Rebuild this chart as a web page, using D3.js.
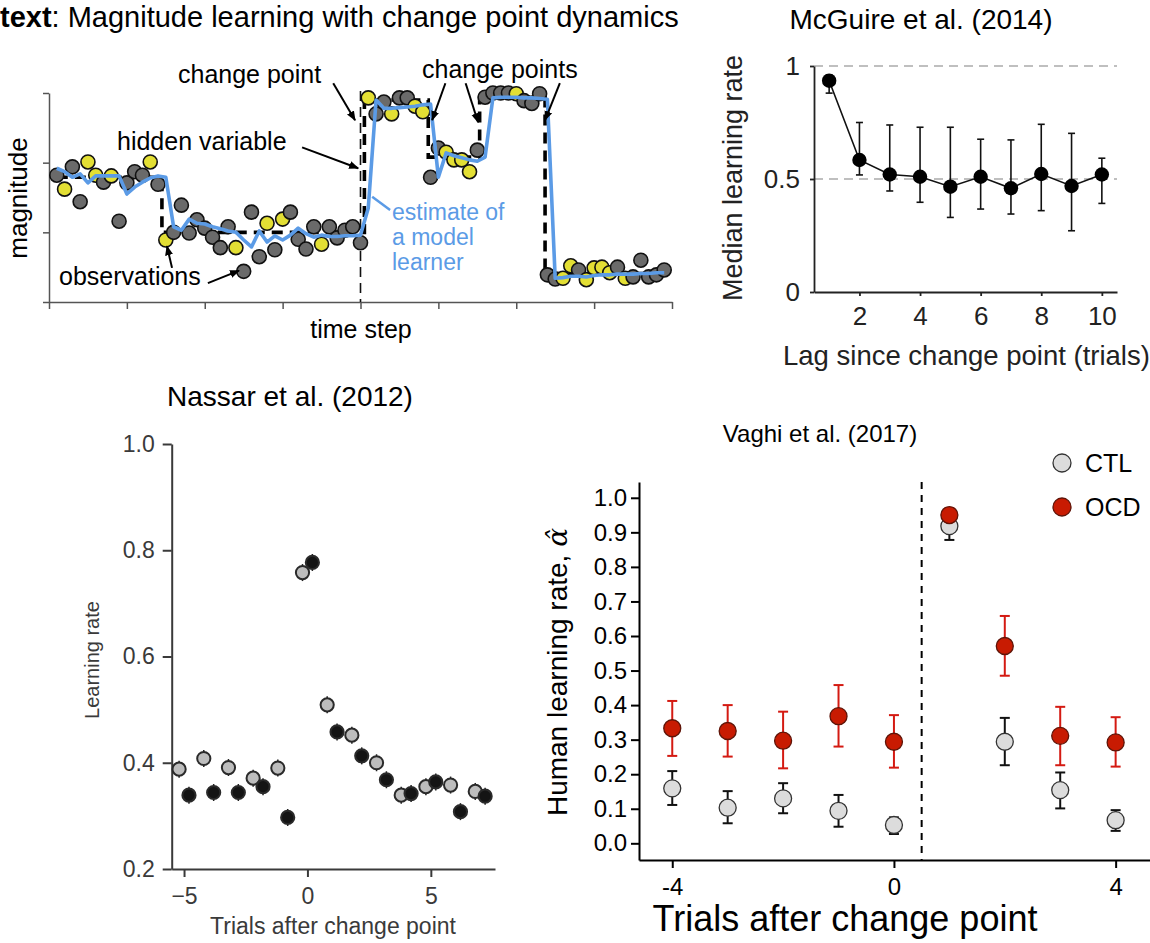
<!DOCTYPE html>
<html>
<head>
<meta charset="utf-8">
<script src="https://cdn.jsdelivr.net/npm/d3@7"></script>
<style>
  body { margin: 0; background: #fff; }
  svg { display: block; font-family: "Liberation Sans", Arial, sans-serif; }
  .axis text { font-family: "Liberation Sans", Arial, sans-serif; }
</style>
</head>
<body>
<svg id="fig" width="1150" height="943"></svg>
<script>
// ---------- panel A : simulated change point task ----------
const timeSteps = d3.range(1, 80);
const observed = [1.82, 1.62, 1.94, 1.44, 2.01, 1.82, 1.72, 1.81, 1.16, 1.71,
  1.87, 1.82, 2.01, 1.69, 0.89, 1.00, 1.39, 0.99, 1.18, 1.06,
  0.93, 0.78, 1.08, 0.78, 0.44, 1.29, 0.65, 1.13, 0.75, 1.19,
  1.29, 0.90, 0.76, 1.08, 0.83, 1.08, 0.92, 1.03, 1.08, 0.85,
  2.93, 2.70, 2.87, 2.70, 2.93, 2.93, 2.81, 2.73, 1.79, 2.21,
  2.15, 2.04, 2.04, 1.87, 2.18, 2.94, 3.00, 3.00, 3.00, 2.99,
  2.89, 2.85, 2.99, 0.39, 0.33, 0.34, 0.52, 0.46, 0.32, 0.49,
  0.50, 0.42, 0.50, 0.34, 0.36, 0.60, 0.36, 0.39, 0.46];
const observedKind = ["g", "y", "g", "g", "y", "y", "g", "y", "g", "g",
  "g", "g", "y", "g", "y", "g", "g", "g", "g", "g",
  "g", "g", "g", "y", "g", "g", "g", "y", "g", "y",
  "g", "g", "g", "g", "y", "g", "g", "g", "g", "g",
  "y", "g", "g", "y", "g", "g", "y", "y", "g", "g",
  "y", "y", "y", "y", "g", "g", "g", "g", "g", "y",
  "g", "g", "g", "g", "g", "y", "y", "g", "y", "y",
  "y", "y", "g", "y", "g", "g", "g", "g", "g"];
const modelEstimate = [1.92, 1.87, 1.79, 1.84, 1.71, 1.81, 1.81, 1.81, 1.81, 1.55,
  1.65, 1.72, 1.78, 1.81, 1.79, 1.08, 1.03, 1.19, 1.13, 1.12,
  1.08, 1.05, 1.02, 1.00, 0.89, 0.79, 1.02, 0.86, 0.95, 0.89,
  0.96, 1.06, 0.98, 0.93, 0.96, 0.94, 0.94, 0.95, 0.95, 0.96,
  1.35, 2.90, 2.78, 2.78, 2.79, 2.80, 2.81, 2.83, 2.84, 1.79,
  2.14, 2.10, 2.07, 2.04, 2.02, 2.08, 2.93, 2.94, 2.94, 2.94,
  2.93, 2.93, 2.92, 2.91, 0.34, 0.35, 0.37, 0.37, 0.36, 0.38,
  0.39, 0.39, 0.40, 0.40, 0.40, 0.41, 0.41, 0.42, 0.42];
const hiddenStart = [1, 14.5, 40.5, 48.7, 55.3, 63.7, 79];
const hiddenLevel = [1.79, 1.0, 2.9, 2.08, 2.94, 0.41, 0.41];
const changePointStep = 40;

// ---------- panel B : McGuire et al. (2014) ----------
const lags = d3.range(1, 11);
const medianRate = [0.935, 0.584, 0.52, 0.51, 0.466, 0.51, 0.459, 0.522, 0.469, 0.52];
const medianLow = [0.88, 0.518, 0.447, 0.397, 0.33, 0.367, 0.345, 0.36, 0.271, 0.392];
const medianHigh = [0.96, 0.75, 0.739, 0.729, 0.729, 0.676, 0.673, 0.742, 0.702, 0.592];

// ---------- panel C : Nassar et al. (2012) ----------
const nassarTrials = d3.range(-5, 8);
const nassarGrey = [0.388, 0.408, 0.391, 0.371, 0.39, 0.758, 0.509, 0.452, 0.40, 0.339, 0.355, 0.358, 0.346];
const nassarBlack = [0.339, 0.344, 0.344, 0.355, 0.297, 0.777, 0.458, 0.413, 0.368, 0.342, 0.364, 0.308, 0.337];

// ---------- panel D : Vaghi et al. (2017) ----------
const vaghiTrials = [-4, -3, -2, -1, 0, 1, 2, 3, 4];
const ocdMean = [0.333, 0.325, 0.297, 0.368, 0.294, 0.95, 0.571, 0.311, 0.292];
const ocdLow = [0.253, 0.251, 0.217, 0.28, 0.219, 0.93, 0.485, 0.226, 0.222];
const ocdHigh = [0.412, 0.40, 0.381, 0.458, 0.371, 0.97, 0.658, 0.395, 0.365];
const ctlMean = [0.159, 0.103, 0.130, 0.094, 0.053, 0.918, 0.294, 0.154, 0.067];
const ctlLow = [0.111, 0.058, 0.087, 0.048, 0.027, 0.878, 0.226, 0.101, 0.036];
const ctlHigh = [0.209, 0.151, 0.174, 0.14, 0.075, 0.95, 0.363, 0.205, 0.096];

const svg = d3.select("#fig");
const defs = svg.append("defs");
defs.append("marker")
  .attr("id", "arrow")
  .attr("viewBox", "0 0 10 10")
  .attr("refX", 9).attr("refY", 5)
  .attr("markerWidth", 5).attr("markerHeight", 5)
  .attr("orient", "auto")
  .append("path").attr("d", "M0,1L10,5L0,9z").attr("fill", "#000");

function styleAxis(g, colour, width, fontSize) {
  g.attr("class", "axis").attr("font-size", fontSize);
  g.selectAll(".domain").attr("stroke", colour).attr("stroke-width", width);
  g.selectAll(".tick line").attr("stroke", colour).attr("stroke-width", width);
  g.selectAll(".tick text").attr("fill", colour).attr("font-size", fontSize);
}

// =================== panel A ===================
const xA = d3.scaleLinear().domain([0, 80]).range([49, 672]);
const yA = d3.scaleLinear().domain([0, 3]).range([302, 93]);
const gA = svg.append("g");

gA.append("text")
  .attr("x", 0).attr("y", 27)
  .attr("font-size", 29)
  .call(t => {
    t.append("tspan").attr("font-weight", "bold").text("text");
    t.append("tspan").text(": Magnitude learning with change point dynamics");
  });

const axA = gA.append("g").attr("transform", "translate(0,302)")
  .call(d3.axisBottom(xA).tickValues(d3.range(0, 81, 10)).tickSize(7).tickSizeOuter(0).tickFormat(""));
styleAxis(axA, "#555", 1.5, 0);
const ayA = gA.append("g").attr("transform", "translate(49,0)")
  .call(d3.axisLeft(yA).tickValues([0, 1, 2, 3]).tickSize(6).tickSizeOuter(0).tickFormat(""));
styleAxis(ayA, "#555", 1.5, 0);

gA.append("text").attr("transform", "translate(27,198) rotate(-90)")
  .attr("text-anchor", "middle").attr("font-size", 26).text("magnitude");
gA.append("text").attr("x", 361).attr("y", 338)
  .attr("text-anchor", "middle").attr("font-size", 25).text("time step");

// change point marker
gA.append("line")
  .attr("x1", xA(changePointStep)).attr("x2", xA(changePointStep))
  .attr("y1", yA(3.03)).attr("y2", yA(0))
  .attr("stroke", "#111").attr("stroke-width", 1.6).attr("stroke-dasharray", "10,6");

// hidden variable
const hiddenPts = hiddenStart.map((t, i) => [t, hiddenLevel[i]]);
gA.append("path")
  .datum(hiddenPts)
  .attr("d", d3.line().x(d => xA(d[0])).y(d => yA(d[1])).curve(d3.curveStepAfter))
  .attr("fill", "none").attr("stroke", "#000")
  .attr("stroke-width", 3.6).attr("stroke-dasharray", "11,7");

const obsPoints = timeSteps.map((t, i) => ({ t: t, v: observed[i], kind: observedKind[i] }));
gA.append("g").selectAll("circle")
  .data(obsPoints)
  .join("circle")
  .attr("cx", d => xA(d.t))
  .attr("cy", d => yA(d.v))
  .attr("r", 7)
  .attr("fill", d => d.kind === "y" ? "#e3df34" : "#6a6a6a")
  .attr("stroke", "#111")
  .attr("stroke-width", 1.6);

// model estimate
gA.append("path")
  .datum(timeSteps.map((t, i) => [t, modelEstimate[i]]))
  .attr("d", d3.line().x(d => xA(d[0])).y(d => yA(d[1])))
  .attr("fill", "none").attr("stroke", "#5b9be6")
  .attr("stroke-width", 3.6).attr("stroke-linejoin", "round");

// annotations: [t0, v0, t1, v1]
const arrowsA = [
  [36.5, 3.14, 39.3, 2.61],
  [32.5, 2.22, 39.7, 1.92],
  [15.8, 0.49, 15.15, 0.80],
  [20.4, 0.27, 24.4, 0.45],
  [50.9, 3.14, 49.2, 2.61],
  [53.5, 3.14, 55.1, 2.58],
  [65.6, 3.14, 63.7, 2.61]
];
gA.append("g").selectAll("line")
  .data(arrowsA)
  .join("line")
  .attr("x1", d => xA(d[0])).attr("y1", d => yA(d[1]))
  .attr("x2", d => xA(d[2])).attr("y2", d => yA(d[3]))
  .attr("stroke", "#000").attr("stroke-width", 2)
  .attr("marker-end", "url(#arrow)");
gA.append("line")
  .attr("x1", xA(41.5)).attr("y1", yA(1.51))
  .attr("x2", xA(43.8)).attr("y2", yA(1.32))
  .attr("stroke", "#5b9be6").attr("stroke-width", 2.5);

const labelsA = [
  { x: 178, y: 83, text: "change point" },
  { x: 117, y: 150, text: "hidden variable" },
  { x: 59, y: 285, text: "observations" },
  { x: 422, y: 78, text: "change points" }
];
gA.append("g").selectAll("text")
  .data(labelsA)
  .join("text")
  .attr("x", d => d.x).attr("y", d => d.y)
  .attr("font-size", 25)
  .text(d => d.text);
gA.append("g").selectAll("text")
  .data(["estimate of", "a model", "learner"])
  .join("text")
  .attr("x", 392).attr("y", (d, i) => 220 + i * 25)
  .attr("font-size", 23).attr("fill", "#5b9be6")
  .text(d => d);

// =================== panel B ===================
const xB = d3.scaleLinear().domain([0.5, 10.5]).range([814, 1117]);
const yB = d3.scaleLinear().domain([0, 1]).range([292, 66]);
const gB = svg.append("g");

gB.append("text").attr("x", 921).attr("y", 29)
  .attr("text-anchor", "middle").attr("font-size", 28).text("McGuire et al. (2014)");

gB.append("g").selectAll("line")
  .data([0.5, 1])
  .join("line")
  .attr("x1", xB(0.5)).attr("x2", xB(10.5))
  .attr("y1", d => yB(d)).attr("y2", d => yB(d))
  .attr("stroke", "#aaa").attr("stroke-width", 1.5).attr("stroke-dasharray", "9,6");

const axB = gB.append("g").attr("transform", "translate(0,292)")
  .call(d3.axisBottom(xB).tickValues([2, 4, 6, 8, 10]).tickSize(4).tickSizeOuter(0).tickPadding(11));
styleAxis(axB, "#222", 1.8, 26);
const ayB = gB.append("g").attr("transform", "translate(814,0)")
  .call(d3.axisLeft(yB).tickValues([0, 0.5, 1]).tickSize(4).tickSizeOuter(0).tickPadding(10)
    .tickFormat(d => d === 0.5 ? "0.5" : d3.format("d")(d)));
styleAxis(ayB, "#222", 1.8, 26);

gB.append("text").attr("transform", "translate(742,178) rotate(-90)")
  .attr("text-anchor", "middle").attr("font-size", 27).attr("fill", "#222").text("Median learning rate");
gB.append("text").attr("x", 783).attr("y", 365)
  .attr("font-size", 27.5).attr("fill", "#222").text("Lag since change point (trials)");

const mcg = lags.map((l, i) => ({ l: l, v: medianRate[i], lo: medianLow[i], hi: medianHigh[i] }));
const errB = gB.append("g").attr("stroke", "#111").attr("stroke-width", 1.6);
errB.selectAll(".bar").data(mcg).join("line").attr("class", "bar")
  .attr("x1", d => xB(d.l)).attr("x2", d => xB(d.l))
  .attr("y1", d => yB(d.lo)).attr("y2", d => yB(d.hi));
errB.selectAll(".capLo").data(mcg).join("line").attr("class", "capLo")
  .attr("x1", d => xB(d.l) - 3.5).attr("x2", d => xB(d.l) + 3.5)
  .attr("y1", d => yB(d.lo)).attr("y2", d => yB(d.lo));
errB.selectAll(".capHi").data(mcg).join("line").attr("class", "capHi")
  .attr("x1", d => xB(d.l) - 3.5).attr("x2", d => xB(d.l) + 3.5)
  .attr("y1", d => yB(d.hi)).attr("y2", d => yB(d.hi));
gB.append("path").datum(mcg)
  .attr("d", d3.line().x(d => xB(d.l)).y(d => yB(d.v)))
  .attr("fill", "none").attr("stroke", "#111").attr("stroke-width", 1.6);
gB.append("g").selectAll("circle").data(mcg).join("circle")
  .attr("cx", d => xB(d.l)).attr("cy", d => yB(d.v)).attr("r", 7.2)
  .attr("fill", "#000");

// =================== panel C ===================
const xC = d3.scaleLinear().domain([-5.5, 7.6]).range([171.7, 495]);
const yC = d3.scaleLinear().domain([0.2, 1.0]).range([869, 444]);
const gC = svg.append("g");

gC.append("text").attr("x", 290).attr("y", 406)
  .attr("text-anchor", "middle").attr("font-size", 28).text("Nassar et al. (2012)");

const axC = gC.append("g").attr("transform", "translate(0,869)")
  .call(d3.axisBottom(xC).tickValues([-5, 0, 5]).tickSize(8).tickSizeOuter(0).tickPadding(11));
styleAxis(axC, "#3a3a3a", 2, 23);
const ayC = gC.append("g").attr("transform", "translate(171.7,0)")
  .call(d3.axisLeft(yC).tickValues([0.2, 0.4, 0.6, 0.8, 1.0]).tickSize(9).tickSizeOuter(0).tickPadding(8)
    .tickFormat(d3.format(".1f")));
styleAxis(ayC, "#3a3a3a", 2, 23);

gC.append("text").attr("transform", "translate(99,660) rotate(-90)")
  .attr("text-anchor", "middle").attr("font-size", 20).attr("fill", "#3a3a3a").text("Learning rate");
gC.append("text").attr("x", 333).attr("y", 934)
  .attr("text-anchor", "middle").attr("font-size", 23).attr("fill", "#3a3a3a").text("Trials after change point");

const nassarPts = [];
nassarTrials.forEach((t, i) => {
  nassarPts.push({ t: t - 0.2, v: nassarGrey[i], fill: "#bdbdbd" });
  nassarPts.push({ t: t + 0.2, v: nassarBlack[i], fill: "#141414" });
});
gC.append("g").selectAll("line").data(nassarPts).join("line")
  .attr("x1", d => xC(d.t)).attr("x2", d => xC(d.t))
  .attr("y1", d => yC(d.v - 0.016)).attr("y2", d => yC(d.v + 0.016))
  .attr("stroke", "#222").attr("stroke-width", 1.5);
gC.append("g").selectAll("circle").data(nassarPts).join("circle")
  .attr("cx", d => xC(d.t)).attr("cy", d => yC(d.v)).attr("r", 6.6)
  .attr("fill", d => d.fill).attr("stroke", "#2a2a2a").attr("stroke-width", 2);

// =================== panel D ===================
const xD = d3.scaleLinear().domain([-4.6, 4.62]).range([639, 1150]);
const yD = d3.scaleLinear().domain([-0.0483, 1.0457]).range([860, 482]);
const gD = svg.append("g");

gD.append("text").attr("x", 820).attr("y", 442)
  .attr("text-anchor", "middle").attr("font-size", 24).text("Vaghi et al. (2017)");

const axD = gD.append("g").attr("transform", "translate(0,860)")
  .call(d3.axisBottom(xD).tickValues([-4, 0, 4]).tickSize(8).tickSizeOuter(0).tickPadding(10)
    .tickFormat(d => d < 0 ? "-" + Math.abs(d) : String(d)));
styleAxis(axD, "#000", 2, 24);
const ayD = gD.append("g").attr("transform", "translate(639,0)")
  .call(d3.axisLeft(yD).tickValues(d3.range(0, 11).map(i => i / 10)).tickSize(8).tickSizeOuter(0).tickPadding(4)
    .tickFormat(d3.format(".1f")));
styleAxis(ayD, "#000", 2, 24);

gD.append("line")
  .attr("x1", xD(0.5)).attr("x2", xD(0.5))
  .attr("y1", yD(1.0457)).attr("y2", yD(-0.0483))
  .attr("stroke", "#000").attr("stroke-width", 2).attr("stroke-dasharray", "7,6");

gD.append("text").attr("transform", "translate(567,672) rotate(-90)")
  .attr("text-anchor", "middle").attr("font-size", 28)
  .call(t => {
    t.append("tspan").text("Human learning rate, ");
    t.append("tspan").attr("font-family", "DejaVu Serif").attr("font-style", "italic").text("\u03B1\u0302");
  });
gD.append("text").attr("x", 845).attr("y", 931)
  .attr("text-anchor", "middle").attr("font-size", 36).text("Trials after change point");

function drawGroup(mean, low, high, fill, edge, barColour) {
  const pts = vaghiTrials.map((t, i) => ({ t: t, v: mean[i], lo: low[i], hi: high[i] }));
  const g = gD.append("g");
  const e = g.append("g").attr("stroke", barColour).attr("stroke-width", 2);
  e.selectAll(".bar").data(pts).join("line").attr("class", "bar")
    .attr("x1", d => xD(d.t)).attr("x2", d => xD(d.t))
    .attr("y1", d => yD(d.lo)).attr("y2", d => yD(d.hi));
  e.selectAll(".capLo").data(pts).join("line").attr("class", "capLo")
    .attr("x1", d => xD(d.t) - 5).attr("x2", d => xD(d.t) + 5)
    .attr("y1", d => yD(d.lo)).attr("y2", d => yD(d.lo));
  e.selectAll(".capHi").data(pts).join("line").attr("class", "capHi")
    .attr("x1", d => xD(d.t) - 5).attr("x2", d => xD(d.t) + 5)
    .attr("y1", d => yD(d.hi)).attr("y2", d => yD(d.hi));
  g.selectAll("circle").data(pts).join("circle")
    .attr("cx", d => xD(d.t)).attr("cy", d => yD(d.v)).attr("r", 8.5)
    .attr("fill", fill).attr("stroke", edge).attr("stroke-width", 1.3);
}
drawGroup(ctlMean, ctlLow, ctlHigh, "#dcdcdc", "#333", "#111");
drawGroup(ocdMean, ocdLow, ocdHigh, "#c81b02", "#5e1408", "#d41a12");

const legendD = [
  { name: "CTL", fill: "#dcdcdc", edge: "#333" },
  { name: "OCD", fill: "#c81b02", edge: "#5e1408" }
];
const lg = gD.append("g").selectAll("g").data(legendD).join("g")
  .attr("transform", (d, i) => "translate(1062," + (463 + i * 44) + ")");
lg.append("circle").attr("r", 9).attr("fill", d => d.fill).attr("stroke", d => d.edge).attr("stroke-width", 1.3);
lg.append("text").attr("x", 23).attr("y", 8.5).attr("font-size", 25).text(d => d.name);
</script>
</body>
</html>
